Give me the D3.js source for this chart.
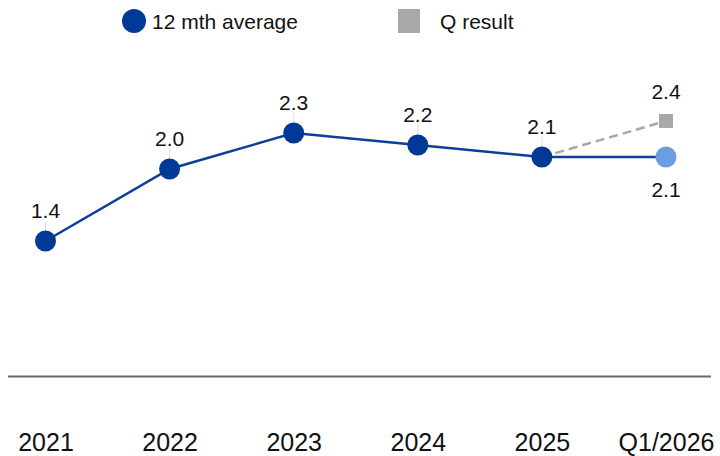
<!DOCTYPE html>
<html>
<head>
<meta charset="utf-8">
<script src="https://cdn.jsdelivr.net/npm/d3@7"></script>
<style>
  html, body { margin: 0; padding: 0; background: #fff; }
  svg { display: block; font-family: "Liberation Sans", Arial, sans-serif; }
</style>
</head>
<body>
<svg id="chart" width="720" height="456"></svg>
<script>
// Categories and series
const categories = ["2021", "2022", "2023", "2024", "2025", "Q1/2026"];
const avgValues = [1.4, 2.0, 2.3, 2.2, 2.1, 2.1];       // 12 mth average
const qCategories = ["2025", "Q1/2026"];
const qValues = [2.1, 2.4];                              // Q result link
const avgLabels = ["1.4", "2.0", "2.3", "2.2", "2.1", "2.1"];
const qLabels = ["2.4"];

const W = 720, H = 456;
const dark = "#013a96", light = "#6b9de0", grey = "#a8a8a8";

const svg = d3.select("#chart");

const x = d3.scalePoint().domain(categories).range([45.5, 666]);
const y = d3.scaleLinear().domain([0, 2.4]).range([409, 121]);

// Baseline rule
svg.append("line")
  .attr("x1", 8).attr("x2", 711)
  .attr("y1", 376.5).attr("y2", 376.5)
  .attr("stroke", "#6a6a6a").attr("stroke-width", 2);

// Category axis (labels only)
const xAxis = d3.axisBottom(x).tickSize(0).tickPadding(0);
const gx = svg.append("g").attr("transform", "translate(0,433)").call(xAxis);
gx.select(".domain").remove();
gx.selectAll("text")
  .attr("dy", "0.72em")
  .attr("font-size", 25)
  .attr("font-family", "'Liberation Sans', Arial, sans-serif")
  .attr("fill", "#111");

// Dashed Q-result link
const qPts = qCategories.map((c, i) => [x(c), y(qValues[i])]);
svg.append("path")
  .attr("d", d3.line()(qPts))
  .attr("fill", "none")
  .attr("stroke", grey)
  .attr("stroke-width", 2.5)
  .attr("stroke-dasharray", "9,5");

// 12 mth average line
const avgPts = categories.map((c, i) => [x(c), y(avgValues[i])]);
svg.append("path")
  .attr("d", d3.line()(avgPts))
  .attr("fill", "none")
  .attr("stroke", "#0b3f98")
  .attr("stroke-width", 2.5);

// Q result marker
const sq = 14;
svg.append("rect")
  .attr("x", x("Q1/2026") - sq / 2)
  .attr("y", y(qValues[1]) - sq / 2)
  .attr("width", sq).attr("height", sq)
  .attr("fill", grey);

// Leader lines above labelled points
const lastIdx = categories.length - 1;
categories.forEach((c, i) => {
  if (i === lastIdx) return;
  svg.append("line")
    .attr("x1", x(c)).attr("x2", x(c))
    .attr("y1", y(avgValues[i]) - 20).attr("y2", y(avgValues[i]) - 10)
    .attr("stroke", "#dcdcdc").attr("stroke-width", 1);
});

// Points
svg.selectAll("circle.pt")
  .data(categories)
  .join("circle")
  .attr("class", "pt")
  .attr("cx", d => x(d))
  .attr("cy", (d, i) => y(avgValues[i]))
  .attr("r", 10.5)
  .attr("fill", (d, i) => i === lastIdx ? light : dark);

// Value labels
svg.selectAll("text.val")
  .data(categories)
  .join("text")
  .attr("class", "val")
  .attr("x", d => x(d))
  .attr("y", (d, i) => i === lastIdx ? y(avgValues[i]) + 40 : y(avgValues[i]) - 23)
  .attr("text-anchor", "middle")
  .attr("font-size", 21)
  .attr("fill", "#111")
  .text((d, i) => avgLabels[i]);

svg.append("text")
  .attr("x", x("Q1/2026"))
  .attr("y", y(qValues[1]) - 22)
  .attr("text-anchor", "middle")
  .attr("font-size", 21)
  .attr("fill", "#111")
  .text(qLabels[0]);

// Legend
const legend = svg.append("g");
legend.append("circle").attr("cx", 134).attr("cy", 21).attr("r", 12).attr("fill", dark);
legend.append("text").attr("x", 152).attr("y", 28.5)
  .attr("font-size", 21).attr("fill", "#111").text("12 mth average");
legend.append("rect").attr("x", 398).attr("y", 9).attr("width", 22).attr("height", 24).attr("fill", grey);
legend.append("text").attr("x", 440).attr("y", 28.5)
  .attr("font-size", 21).attr("fill", "#111").text("Q result");
</script>
</body>
</html>
